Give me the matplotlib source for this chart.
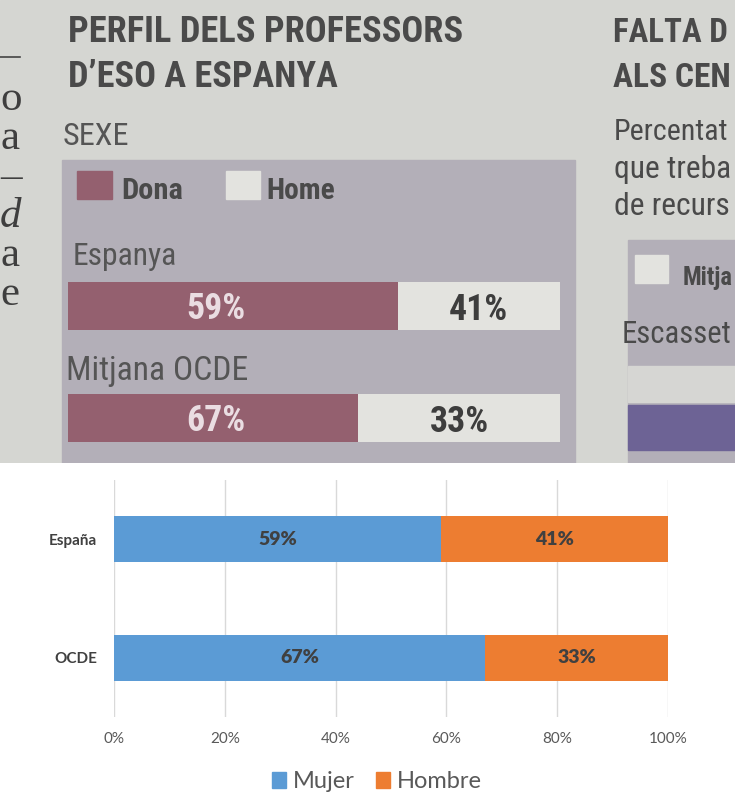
import matplotlib
matplotlib.use('Agg')
import matplotlib.pyplot as plt
from matplotlib.patches import Rectangle, Patch

# --- grafic Excel (part de baix) ---
categories = ['España', 'OCDE']
mujer = [59, 67]
hombre = [41, 33]
ticks = [0, 20, 40, 60, 80, 100]
legend_labels = ['Mujer', 'Hombre']

# --- retall de diari (part de dalt) ---
premsa_titol = ['PERFIL DELS PROFESSORS', 'D\u2019ESO A ESPANYA']
premsa_sub = 'SEXE'
premsa_legend = ['Dona', 'Home']
premsa_categories = ['Espanya', 'Mitjana OCDE']
premsa_dona_txt = ['59%', '67%']
premsa_home_txt = ['41%', '33%']
# longituds tal com estan impreses (el diari les va intercanviar)
premsa_dona_long = [67, 59]
dreta_textos = ['FALTA D', 'ALS CEN', 'Percentat', 'que treba', 'de recurs', 'Mitja', 'Escasset']
esquerra_lletres = ['o', 'a', '\u2013', 'd', 'a', 'e']

BLUE = '#5B9BD5'
ORANGE = '#ED7D31'
PINK = '#94606f'
BOX = '#b3afb8'
PAPER = '#d5d6d2'
LIGHT = '#e3e3df'
INK = '#4a4a4a'
narrow = ['Roboto Condensed', 'Lato', 'DejaVu Sans']
calibri = ['Lato', 'DejaVu Sans']

W, H = 735, 800
fig = plt.figure(figsize=(W / 100, H / 100), dpi=100)
fig.patch.set_facecolor('white')


def px_axes(x0, y0, x1, y1):
    return fig.add_axes([x0 / W, 1 - y1 / H, (x1 - x0) / W, (y1 - y0) / H])


to_fit = []  # (text, amplada en px que te a la foto)

# ---------------- foto del diari ----------------
bg = px_axes(0, 0, W, 463)
bg.set_xlim(0, W)
bg.set_ylim(463, 0)
bg.axis('off')
bg.add_patch(Rectangle((0, 0), W, 463, color=PAPER))
bg.add_patch(Rectangle((62, 160), 513, 303, color=BOX))
bg.add_patch(Rectangle((628, 240), 107, 223, color=BOX))
bg.add_patch(Rectangle((628, 366), 107, 36, color='#d6d6d3'))
bg.add_patch(Rectangle((628, 405), 107, 45, color='#6d6395'))
bg.add_patch(Rectangle((77, 171), 35, 28, color=PINK))
bg.add_patch(Rectangle((226, 171), 34, 28, color=LIGHT))
bg.add_patch(Rectangle((635, 255), 33, 28, color=LIGHT))
bg.plot([0, 20], [57, 57], color='#444444', lw=1.2)

t = bg.text(68, 42, premsa_titol[0], fontsize=27, fontweight='bold', family=narrow, color=INK, va='baseline')
to_fit.append((t, 394))
t = bg.text(68, 87, premsa_titol[1], fontsize=27, fontweight='bold', family=narrow, color=INK, va='baseline')
to_fit.append((t, 269))
t = bg.text(63, 145, premsa_sub, fontsize=20, family=narrow, color='#555555', va='baseline')
to_fit.append((t, 66))
t = bg.text(121, 199, premsa_legend[0], fontsize=17, fontweight='bold', family=narrow, color=INK, va='baseline')
to_fit.append((t, 62))
t = bg.text(266, 199, premsa_legend[1], fontsize=17, fontweight='bold', family=narrow, color=INK, va='baseline')
to_fit.append((t, 69))
t = bg.text(73, 265, premsa_categories[0], fontsize=19, family=narrow, color='#555555', va='baseline')
to_fit.append((t, 105))
t = bg.text(66, 380, premsa_categories[1], fontsize=19, family=narrow, color='#555555', va='baseline')
to_fit.append((t, 182))

# columna de la dreta (tallada a la foto)
dreta_pos = [(613, 42, 'bold', 115), (613, 87, 'bold', 118), (614, 140, 'normal', 114),
             (614, 178, 'normal', 117), (614, 215, 'normal', 116), (683, 285, 'bold', 50),
             (622, 343, 'normal', 110)]
for txt, (x, y, fw, w) in zip(dreta_textos, dreta_pos):
    t = bg.text(x, y, txt, fontsize=20, fontweight=fw, family=narrow, color=INK, va='baseline')
    to_fit.append((t, w))

# columna de l'esquerra (tallada a la foto)
for i, ch in enumerate(esquerra_lletres):
    bg.text(0, 110 + i * 39, ch, fontsize=31, family=['Liberation Serif', 'DejaVu Serif'],
            style='italic' if ch == 'd' else 'normal', color='#3f3f3f', va='baseline')

# barres del diari
nb = px_axes(68, 250, 560, 474)
nb.set_xlim(0, 100)
nb.set_ylim(1.5, -0.5)
nb.axis('off')
pos = list(range(len(premsa_categories)))
nb.barh(pos, [100] * len(pos), height=0.43, color=LIGHT)
nb.barh(pos, premsa_dona_long, height=0.43, color=PINK)
for i in pos:
    t = nb.text(30, i + 0.03, premsa_dona_txt[i], ha='center', va='center', fontsize=17,
                fontweight='bold', family=narrow, color='#eadde2')
    to_fit.append((t, 59))
    t = nb.text((premsa_dona_long[i] + 100) / 2, i + 0.04, premsa_home_txt[i], ha='center', va='center',
                fontsize=20, fontweight='bold', family=narrow, color='#3d3d3d')
    to_fit.append((t, 59))

# ---------------- grafic Excel ----------------
ax = px_axes(114, 480, 668, 717)
y = list(range(len(categories)))
ax.barh(y, mujer, height=0.39, color=BLUE, zorder=3)
ax.barh(y, hombre, left=mujer, height=0.39, color=ORANGE, zorder=3)
for i in y:
    ax.text(mujer[i] / 2, i, f'{mujer[i]}%', ha='center', va='center', fontsize=14,
            fontweight='heavy', family=calibri, color='#404040', zorder=4)
    ax.text(mujer[i] + hombre[i] / 2, i, f'{hombre[i]}%', ha='center', va='center', fontsize=14,
            fontweight='heavy', family=calibri, color='#404040', zorder=4)

ax.set_xlim(0, 100)
ax.set_ylim(1.5, -0.5)
ax.set_xticks(ticks)
ax.set_xticklabels([f'{t}%' for t in ticks], family=calibri, fontsize=11, color='#595959')
ax.set_yticks(y)
ax.set_yticklabels(categories, family=calibri, fontsize=11, fontweight='bold', color='#404040')
ax.tick_params(length=0)
ax.tick_params(axis='x', pad=11)
ax.tick_params(axis='y', pad=12)
ax.grid(axis='x', color='#d9d9d9', lw=1, zorder=0)
for s in ax.spines.values():
    s.set_visible(False)

handles = [Patch(color=BLUE), Patch(color=ORANGE)]
leg = fig.legend(handles, legend_labels, loc='center', bbox_to_anchor=(377 / W, 1 - 782 / H),
                 ncol=2, frameon=False, handlelength=0.6, handleheight=0.65, handletextpad=0.3,
                 columnspacing=0.9, prop={'family': calibri, 'size': 17})
for t in leg.get_texts():
    t.set_color('#595959')

# ajusta la mida dels textos de la foto a l'amplada que tenen al diari
fig.canvas.draw()
rend = fig.canvas.get_renderer()
for t, w in to_fit:
    cur = t.get_window_extent(rend).width
    t.set_fontsize(t.get_fontsize() * w / cur)

fig.savefig('out.png', dpi=100)
